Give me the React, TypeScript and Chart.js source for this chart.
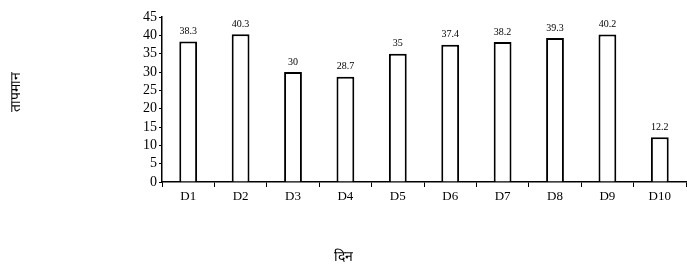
import React, { useEffect, useRef } from "react";
import { Chart, registerables } from "chart.js";

Chart.register(...registerables);

const categories = ["D1", "D2", "D3", "D4", "D5", "D6", "D7", "D8", "D9", "D10"];
const values = [38.3, 40.3, 30, 28.7, 35, 37.4, 38.2, 39.3, 40.2, 12.2];
const valueLabels = ["38.3", "40.3", "30", "28.7", "35", "37.4", "38.2", "39.3", "40.2", "12.2"];
const yTitle = "तापमान";
const xTitle = "दिन";

const SERIF = "'Liberation Serif', 'Times New Roman', serif";

const labelPlugin = {
  id: "customLabels",
  afterDatasetsDraw(chart: any) {
    const ctx = chart.ctx;
    const meta = chart.getDatasetMeta(0);
    ctx.save();
    ctx.fillStyle = "#000";
    ctx.font = `10px ${SERIF}`;
    ctx.textAlign = "center";
    ctx.textBaseline = "bottom";
    meta.data.forEach((bar: any, i: number) => {
      ctx.fillText(valueLabels[i], bar.x, bar.y - 5);
    });
    ctx.restore();
  },
  afterDraw(chart: any) {
    const ctx = chart.ctx;
    ctx.save();
    ctx.fillStyle = "#000";
    ctx.font = `14px ${SERIF}`;
    ctx.textAlign = "center";
    ctx.textBaseline = "middle";
    ctx.fillText(xTitle, chart.width / 2, 257);
    ctx.translate(16, 92);
    ctx.rotate(-Math.PI / 2);
    ctx.fillText(yTitle, 0, 0);
    ctx.restore();
  },
};

export default function App() {
  const ref = useRef<HTMLCanvasElement>(null);
  useEffect(() => {
    if (!ref.current) return;
    const chart = new Chart(ref.current, {
      type: "bar",
      data: {
        labels: categories,
        datasets: [
          {
            data: values,
            backgroundColor: "#ffffff",
            borderColor: "#000000",
            borderWidth: 2,
            barPercentage: 0.34,
            categoryPercentage: 1,
          },
        ],
      },
      options: {
        animation: false,
        responsive: false,
        maintainAspectRatio: false,
        layout: { padding: { top: 17, right: 1, left: 0, bottom: 0 } },
        plugins: { legend: { display: false }, tooltip: { enabled: false } },
        scales: {
          x: {
            afterFit(scale: any) {
              scale.height = 86;
            },
            grid: {
              display: true,
              offset: true,
              drawOnChartArea: false,
              drawTicks: true,
              tickLength: 5,
              color: "#000",
            },
            border: { display: true, color: "#000", width: 1.5 },
            ticks: {
              color: "#000",
              font: { family: SERIF, size: 13 },
              padding: 2,
              maxRotation: 0,
              autoSkip: false,
            },
          },
          y: {
            min: 0,
            max: 45,
            afterFit(scale: any) {
              scale.width = 162;
            },
            grid: {
              display: true,
              drawOnChartArea: false,
              drawTicks: true,
              tickLength: 3,
              color: "#000",
            },
            border: { display: true, color: "#000", width: 1.5 },
            ticks: {
              stepSize: 5,
              autoSkip: false,
              color: "#000",
              font: { family: SERIF, size: 14 },
              padding: 2,
            },
          },
        },
      },
      plugins: [labelPlugin],
    });
    return () => chart.destroy();
  }, []);
  return (
    <div style={{ position: "fixed", left: 0, top: 0, width: 687, height: 268, background: "#fff" }}>
      <canvas ref={ref} width={687} height={268} style={{ width: 687, height: 268 }} />
    </div>
  );
}
